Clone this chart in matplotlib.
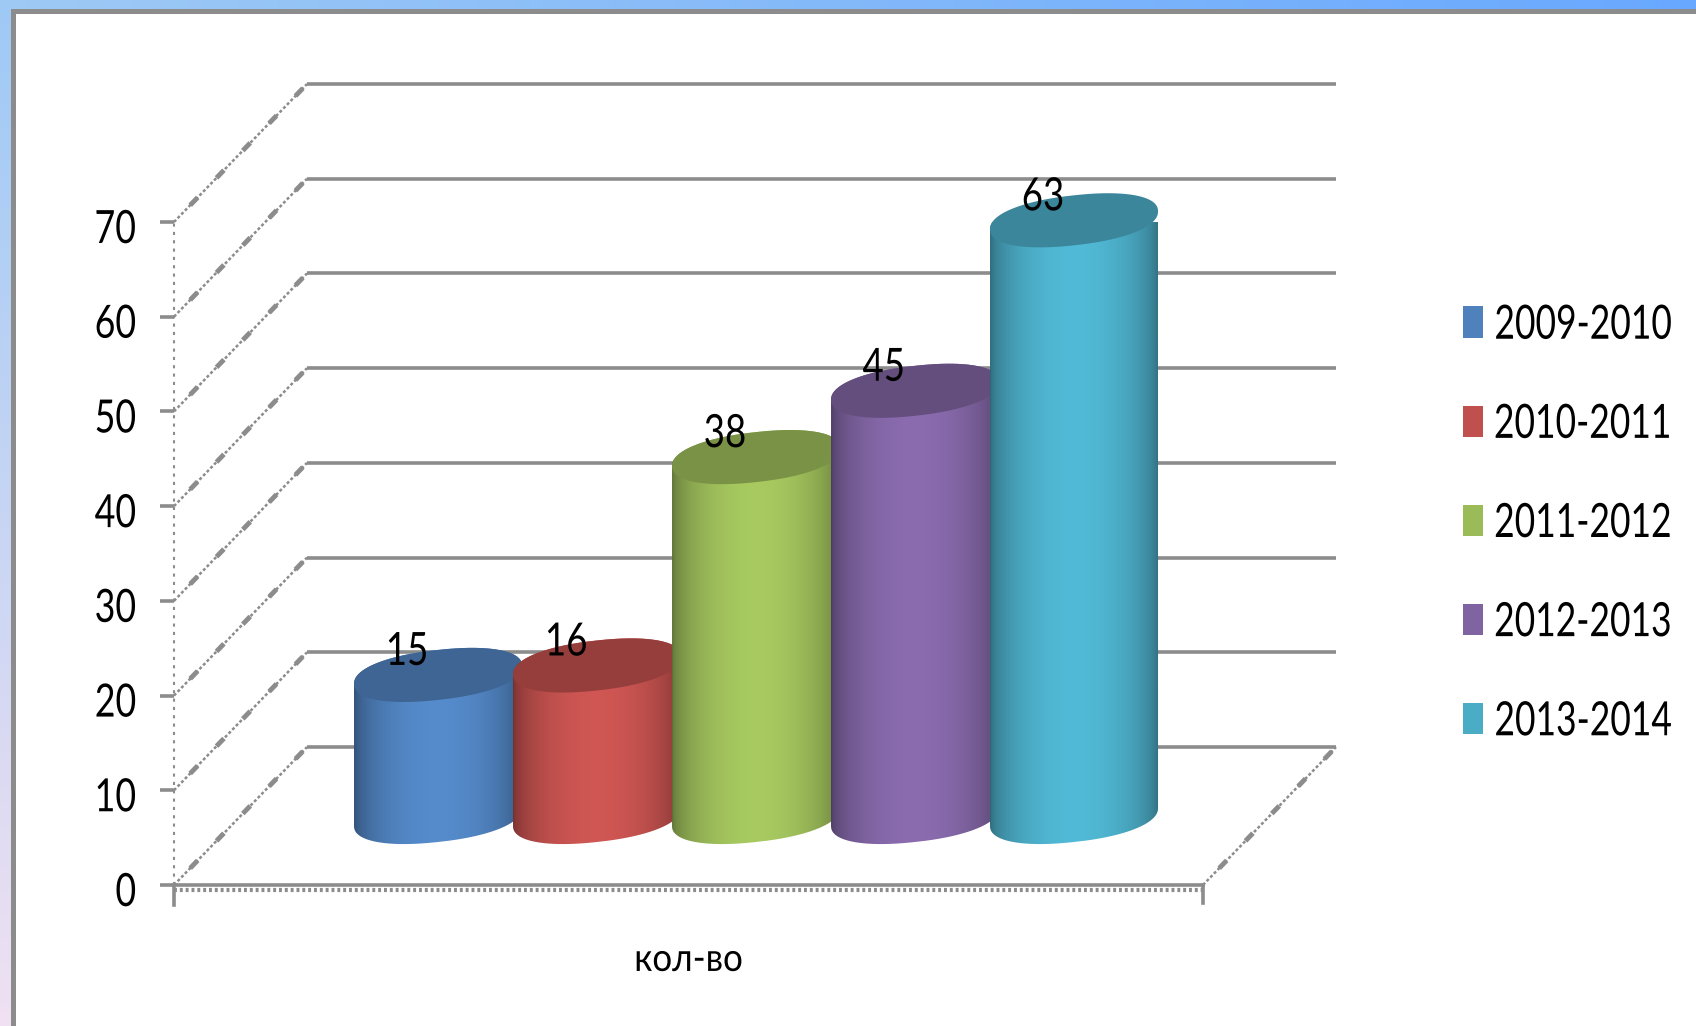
import matplotlib
matplotlib.use('Agg')
import matplotlib.pyplot as plt
from matplotlib.patches import Patch, PathPatch, Rectangle
from matplotlib.patheffects import AbstractPathEffect
from matplotlib.path import Path
from matplotlib.transforms import Affine2D, ScaledTranslation
import numpy as np

# данные
years = ['2009-2010', '2010-2011', '2011-2012', '2012-2013', '2013-2014']
values = [15, 16, 38, 45, 63]
y_ticks = [0, 10, 20, 30, 40, 50, 60, 70]
category = 'кол-во'

colors = ['#4F81BD', '#C0504D', '#9BBB59', '#8064A2', '#4BACC6']
grey = '#8c8c8c'

plt.rcParams['font.family'] = ['Lato', 'DejaVu Sans']


# узкое начертание: сжимает текст по горизонтали (align: 0 слева, 0.5 центр, 1 справа)
class Narrow(AbstractPathEffect):
    def __init__(self, sx, align=0.0):
        super().__init__()
        self.sx = sx
        self.align = align

    def draw_path(self, renderer, gc, tpath, affine, rgbFace=None):
        ext = tpath.get_extents()
        a = ext.x0 + ext.width * self.align
        squeeze = Affine2D().translate(-a, 0).scale(self.sx, 1).translate(a, 0)
        renderer.draw_path(gc, tpath, squeeze + affine, rgbFace)


W, H = 1696, 1026
fig = plt.figure(figsize=(W / 100, H / 100), dpi=100)

# фон слайда: градиент и серая рамка
bg = fig.add_axes([0, 0, 1, 1], zorder=0)
bg.axis('off')
c_tl = np.array([0.62, 0.79, 0.96])
c_tr = np.array([0.41, 0.66, 1.00])
c_bl = np.array([0.94, 0.88, 0.95])
gx, gy = np.meshgrid(np.linspace(0, 1, 128), np.linspace(0, 1, 128))
grad = (c_tl + gx[..., None] * (c_tr - c_tl) + gy[..., None] * (c_bl - c_tl))
bg.imshow(np.clip(grad, 0, 1), extent=[0, W, H, 0], aspect='auto')
bg.add_patch(Rectangle((12.5, 10.5), W, H, fc='white', ec=grey, lw=3.6))
bg.set_xlim(0, W)
bg.set_ylim(H, 0)

# основная ось: передняя рамка графика
x0, x1, y0, y70 = 174, 1203, 885, 222
ax = fig.add_axes([x0 / W, 1 - y0 / H, (x1 - x0) / W, (y0 - y70) / H], zorder=1)
ax.patch.set_alpha(0)
ax.set_xlim(0, 1)
ax.set_ylim(0, 70)
for s in ax.spines.values():
    s.set_visible(False)

px_x = 1 / (x1 - x0)
px_y = 70 / (y0 - y70)
depth_x = 133 * px_x
depth_y = 138 * px_y


def side_line(xs, ys):
    ax.plot(xs, ys, color=grey, lw=1.8, ls=(0, (1.2, 0.9)), clip_on=False, zorder=1)
    ax.plot(xs, ys, color=grey, lw=3.5, ls=(3, (2.2, 5.6)), clip_on=False, zorder=1)


# сетка: задняя стенка и левая боковая
for v in y_ticks:
    ax.plot([depth_x, 1 + depth_x], [v + depth_y, v + depth_y], color=grey, lw=2.6,
            clip_on=False, zorder=1, solid_capstyle='butt')
    side_line([0, depth_x], [v, v + depth_y])
ax.plot([0, 0], [0, 70], color=grey, lw=1.5, ls=(0, (1.5, 2.5)), clip_on=False, zorder=1)
side_line([1, 1 + depth_x], [0, depth_y])

# ось x
ax.plot([0, 1], [0, 0], color=grey, lw=2.6, clip_on=False, zorder=1)
ax.plot([0, 1], [-5 * px_y, -5 * px_y], color=grey, lw=3, ls=(0, (0.7, 0.7)),
        clip_on=False, zorder=1)
ax.plot([0, 0], [0, -20 * px_y], color=grey, lw=2.6, clip_on=False, zorder=1)
ax.plot([1, 1], [0, -18 * px_y], color=grey, lw=2.6, clip_on=False, zorder=1)

# цилиндры
bar_w = 168 * px_x
bar_step = 159 * px_x
first_x = 0.2566
base_y = 68 * px_y
semi_b = 25 * px_y
shear = 9 * px_y


def ring(cx, cy, t):
    c = np.sign(np.cos(t)) * np.abs(np.cos(t)) ** 0.9
    s = np.sign(np.sin(t)) * np.abs(np.sin(t)) ** 0.9
    return cx + bar_w / 2 * c, cy + semi_b * s + shear * c


def shade(color, k):
    rgb = np.array(matplotlib.colors.to_rgb(color))
    return np.clip(rgb * k, 0, 1)


for i, (val, col) in enumerate(zip(values, colors)):
    cx = first_x + i * bar_step
    top = base_y + val

    t_low = np.linspace(np.pi, 2 * np.pi, 80)
    t_up = np.linspace(0, np.pi, 80)
    xb, yb = ring(cx, base_y, t_low)
    xt, yt = ring(cx, top, t_up)
    body = Path(np.column_stack([np.r_[xb, xt], np.r_[yb, yt]]))

    u = np.linspace(0, 1, 200)
    k = 0.6 + 0.48 * np.sin(np.pi * u) ** 0.5
    img = np.array([shade(col, a) for a in k])[None, :, :]
    im = ax.imshow(img, extent=[cx - bar_w / 2, cx + bar_w / 2, base_y - semi_b * 1.3, top + semi_b * 1.3],
                   aspect='auto', zorder=2 + i, clip_on=True)
    clip = PathPatch(body, transform=ax.transData, fc='none', ec='none')
    ax.add_patch(clip)
    im.set_clip_path(clip)

    t = np.linspace(0, 2 * np.pi, 160)
    xe, ye = ring(cx, top, t)
    ax.fill(xe, ye, color=shade(col, 0.78), lw=0, zorder=2 + i + 0.5, clip_on=False)

    ax.text(cx - 31 * px_x, top + 23 * px_y, str(val), ha='center', va='center',
            fontsize=33, color='black', zorder=20, clip_on=False,
            path_effects=[Narrow(0.8, 0.5)])

ax.set_xlim(0, 1)
ax.set_ylim(0, 70)

ax.set_yticks(y_ticks)
ax.set_yticklabels([str(v) for v in y_ticks], fontsize=33)
ax.tick_params(axis='y', length=10, width=2.6, color=grey, pad=17)
shift = ScaledTranslation(0, -4 / 100, fig.dpi_scale_trans)
for lab in ax.get_yticklabels():
    lab.set_path_effects([Narrow(0.78, 1.0)])
    lab.set_transform(lab.get_transform() + shift)

ax.set_xticks([0.5])
ax.set_xticklabels([category], fontsize=28, path_effects=[Narrow(0.9, 0.5)])
ax.tick_params(axis='x', length=0, pad=41)

# подписи легенды сжаты к правому краю, поэтому отступ от маркера отрицательный
handles = [Patch(fc=c, ec='none') for c in colors]
leg = fig.legend(handles, years, loc='center left', bbox_to_anchor=(1463 / W, 1 - 524 / H), frameon=False,
                 fontsize=34, handlelength=0.42, handleheight=0.65, handletextpad=-1.0,
                 labelspacing=1.21, borderpad=0, borderaxespad=0)
for txt in leg.get_texts():
    txt.set_path_effects([Narrow(0.75, 1.0)])

fig.savefig('out.png', dpi=100)
